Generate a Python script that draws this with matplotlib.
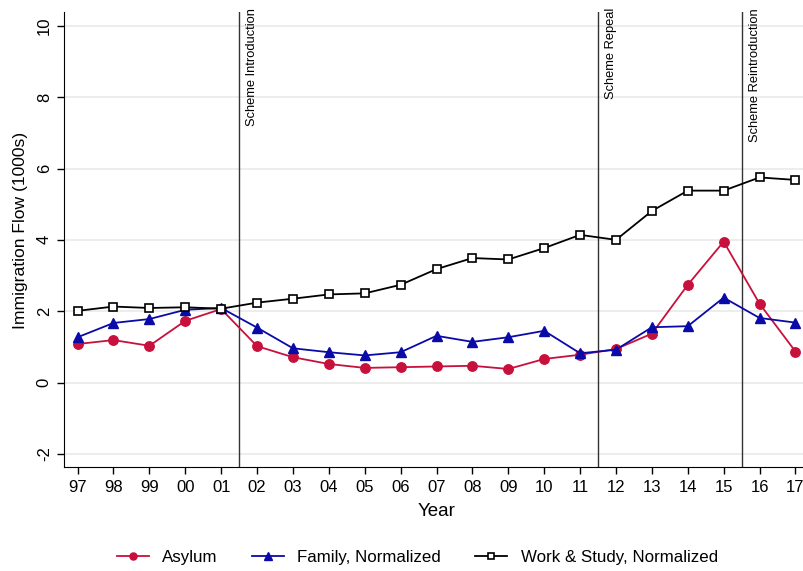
import matplotlib
matplotlib.use("Agg")
import matplotlib.pyplot as plt

plt.rcParams['font.family'] = ['Liberation Sans', 'DejaVu Sans']

years = ["97", "98", "99", "00", "01", "02", "03", "04", "05", "06", "07",
         "08", "09", "10", "11", "12", "13", "14", "15", "16", "17"]
asylum = [1.08, 1.19, 1.03, 1.73, 2.06, 1.02, 0.71, 0.52, 0.41, 0.43, 0.45,
          0.47, 0.38, 0.66, 0.78, 0.94, 1.37, 2.74, 3.95, 2.21, 0.87]
family = [1.27, 1.67, 1.78, 2.04, 2.09, 1.54, 0.96, 0.85, 0.76, 0.85, 1.31,
          1.14, 1.27, 1.45, 0.82, 0.92, 1.55, 1.58, 2.38, 1.81, 1.68]
work_study = [2.01, 2.13, 2.09, 2.11, 2.07, 2.24, 2.35, 2.47, 2.50, 2.74, 3.18,
              3.49, 3.45, 3.77, 4.14, 4.00, 4.81, 5.38, 5.38, 5.75, 5.68]

events = [(4.5, "Scheme Introduction"), (14.5, "Scheme Repeal"), (18.5, "Scheme Reintroduction")]

fig = plt.figure(figsize=(8.04, 5.71), dpi=100)
ax = fig.add_axes([0.080, 0.182, 0.925, 0.7965])

x = list(range(len(years)))
ax.plot(x, asylum, color='#c8103c', marker='o', markersize=6.8, lw=1.3, label='Asylum', zorder=3)
ax.plot(x, family, color='#0a0aa8', marker='^', markersize=7, lw=1.3, label='Family, Normalized', zorder=3)
ax.plot(x, work_study, color='black', marker='s', markersize=5.2, markerfacecolor='white',
        markeredgewidth=1.2, lw=1.3, label='Work & Study, Normalized', zorder=3)

for xv, txt in events:
    ax.axvline(xv, color='#333333', lw=1.0, zorder=2)
    ax.text(xv + 0.2, 10.5, txt, rotation=90, va='top', ha='left', fontsize=9.3)

ax.set_xlim(-0.37, 20.35)
ax.set_ylim(-2.37, 10.38)
ax.set_xticks(x)
ax.set_xticklabels(years, fontsize=12)
ax.set_yticks([-2, 0, 2, 4, 6, 8, 10])
ax.set_yticklabels(["-2", "0", "2", "4", "6", "8", "10"], fontsize=12, rotation=90, va='center')
ax.grid(axis='y', color='#eaeaea', lw=1.2, zorder=0)
ax.set_axisbelow(True)
for side in ['top', 'right']:
    ax.spines[side].set_visible(False)
ax.tick_params(direction='out', length=5, width=1, pad=4)
ax.set_xlabel("Year", fontsize=13.5, labelpad=6)
ax.set_ylabel("Immigration Flow (1000s)", fontsize=12.6)
ax.yaxis.set_label_coords(-0.049, 0.521)

fig.legend(loc='center', bbox_to_anchor=(0.519, 0.023), ncol=3, frameon=False,
           fontsize=12.2, handlelength=1.9, handletextpad=0.8, columnspacing=2.0,
           markerscale=0.75)

fig.savefig("out.png", dpi=100)
